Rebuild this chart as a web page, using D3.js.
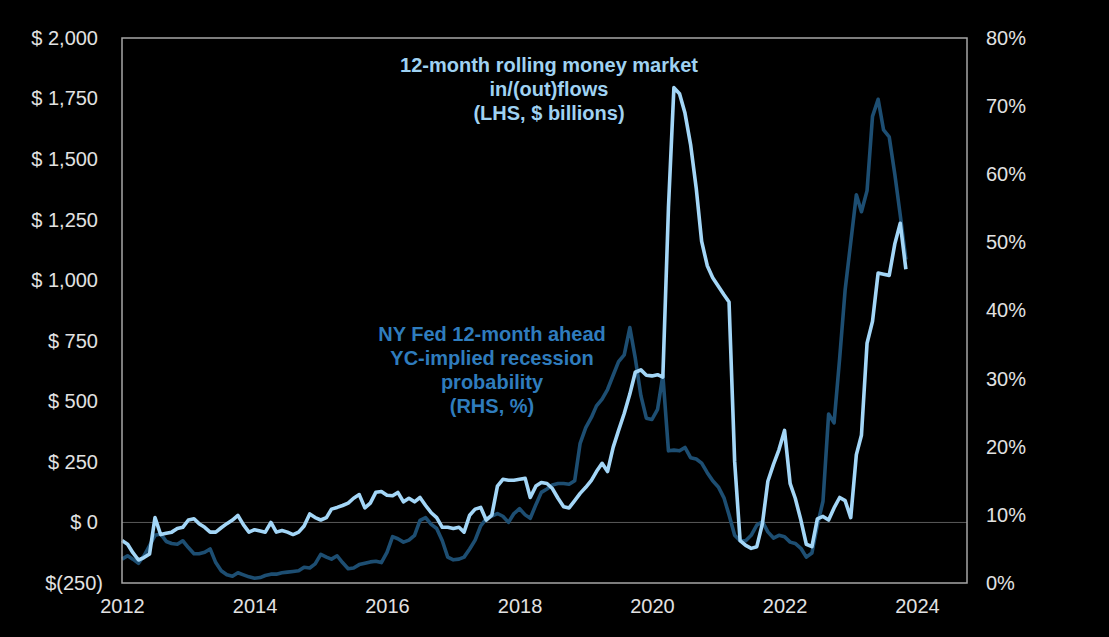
<!DOCTYPE html>
<html>
<head>
<meta charset="utf-8">
<script src="https://cdn.jsdelivr.net/npm/d3@7"></script>
<style>
  html, body { margin: 0; padding: 0; background: #000; }
  svg { display: block; }
</style>
</head>
<body>
<svg id="chart" width="1109" height="637"></svg>
<script>
// ---- Data (monthly, Jan 2012 .. Nov 2023) ----
const seriesStart = new Date(2012, 0, 1);

// 12-month rolling money market in/(out)flows, $ billions (LHS)
const moneyFlows = [
  -75, -90, -125, -155, -145, -130, 20, -50, -45, -40, -25, -20,
  10, 15, -5, -20, -40, -40, -22, -5, 10, 29, -10, -40,
  -30, -35, -40, 0, -40, -33, -40, -50, -40, -15, 35, 20,
  10, 20, 55, 62, 70, 80, 100, 115, 60, 80, 125, 128,
  112, 110, 124, 85, 100, 85, 103, 70, 40, 20, -20, -20,
  -25, -20, -40, 30, 55, 62, 10, 30, 150, 178, 174, 174,
  178, 182, 103, 150, 165, 161, 140, 100, 65, 60, 90, 120,
  145, 174, 210, 244, 210, 310, 380, 450, 530, 620, 630, 608,
  605, 610, 600, 1300, 1795, 1770, 1690, 1560, 1380, 1160, 1060, 1010,
  975, 940, 910, 250, -75, -95, -107, -100, -5, 170, 240, 300,
  380, 160, 100, 10, -90, -100, 15, 25, 10, 60, 103, 90,
  20, 280, 360, 740, 830, 1030, 1025, 1020, 1150, 1235, 1045
];

// NY Fed 12-month ahead YC-implied recession probability, % (RHS)
const recessionProb = [
  3.5, 4.0, 3.5, 2.9, 4.0, 5.5, 7.0, 7.2, 6.1, 5.8, 5.7, 6.2,
  5.2, 4.3, 4.3, 4.5, 5.0, 3.0, 1.8, 1.2, 1.0, 1.5, 1.2, 0.9,
  0.7, 0.8, 1.1, 1.3, 1.3, 1.5, 1.6, 1.7, 1.8, 2.3, 2.2, 2.8,
  4.2, 3.8, 3.5, 4.0, 3.0, 2.1, 2.2, 2.7, 2.9, 3.1, 3.2, 3.0,
  4.5, 6.8, 6.5, 6.0, 6.3, 7.0, 9.2, 9.6, 8.6, 8.0, 6.2, 3.8,
  3.4, 3.5, 3.8, 5.0, 6.3, 8.4, 9.4, 9.8, 10.2, 9.8, 8.9, 10.2,
  10.9, 10.0, 9.5, 11.5, 13.3, 13.8, 14.4, 14.6, 14.6, 14.5, 15.0, 20.5,
  22.8, 24.3, 26.0, 27.0, 28.4, 30.5, 32.5, 33.5, 37.5, 33.0, 27.5, 24.2,
  24.0, 25.5, 30.5, 19.4, 19.5, 19.4, 19.9, 18.4, 18.2, 17.6, 16.2, 15.0,
  14.1, 12.5, 10.0, 7.0, 6.2, 6.2, 7.0, 8.5, 9.0, 7.5, 6.6, 7.0,
  6.8, 6.0, 5.8, 5.1, 3.8, 4.4, 8.5, 12.0, 24.8, 23.5, 33.0, 43.0,
  50.0, 57.0, 54.5, 57.6, 68.5, 71.0, 66.5, 65.5, 60.0, 54.0, 47.5
];

const leftTicks = [-250, 0, 250, 500, 750, 1000, 1250, 1500, 1750, 2000];
const rightTicks = [0, 10, 20, 30, 40, 50, 60, 70, 80];
const yearTicks = [2012, 2014, 2016, 2018, 2020, 2022, 2024];

const flowsTitle = ["12-month rolling money market", "in/(out)flows", "(LHS, $ billions)"];
const probTitle = ["NY Fed 12-month ahead", "YC-implied recession", "probability", "(RHS, %)"];

// ---- Layout ----
const plot = { left: 122, right: 967, top: 38, bottom: 583 };
const colors = {
  light: "#a3d6f7",
  dark: "#1d4e72",
  lightText: "#9fd2f2",
  darkText: "#2f7cbd",
  axisText: "#e2e2e2",
  border: "#a6a6a6",
  zero: "#5a5a5a"
};

const svg = d3.select("#chart");
svg.append("rect").attr("width", 1109).attr("height", 637).attr("fill", "#000");

const dates = d3.timeMonth.range(seriesStart, d3.timeMonth.offset(seriesStart, moneyFlows.length));

const x = d3.scaleTime()
  .domain([new Date(2012, 0, 1), new Date(2024, 9, 3)])
  .range([plot.left, plot.right]);
const yL = d3.scaleLinear().domain([-250, 2000]).range([plot.bottom, plot.top]);
const yR = d3.scaleLinear().domain([0, 80]).range([plot.bottom, plot.top]);

const font = "'Liberation Sans', Arial, sans-serif";

// zero line
svg.append("line")
  .attr("x1", plot.left).attr("x2", plot.right)
  .attr("y1", yL(0)).attr("y2", yL(0))
  .attr("stroke", colors.zero).attr("stroke-width", 1);

// lines
const darkLine = d3.line().x((d, i) => x(dates[i])).y(d => yR(d));
const lightLine = d3.line().x((d, i) => x(dates[i])).y(d => yL(d));

svg.append("path").datum(recessionProb)
  .attr("d", darkLine).attr("fill", "none")
  .attr("stroke", colors.dark).attr("stroke-width", 3.6)
  .attr("stroke-linejoin", "round");

svg.append("path").datum(moneyFlows)
  .attr("d", lightLine).attr("fill", "none")
  .attr("stroke", colors.light).attr("stroke-width", 3.6)
  .attr("stroke-linejoin", "round");

// border
svg.append("rect")
  .attr("x", plot.left).attr("y", plot.top)
  .attr("width", plot.right - plot.left).attr("height", plot.bottom - plot.top)
  .attr("fill", "none").attr("stroke", colors.border).attr("stroke-width", 1.5);

// axes
const fmt = d3.format(",");
const leftAxis = d3.axisLeft(yL).tickValues(leftTicks).tickSize(0).tickPadding(24)
  .tickFormat(v => v < 0 ? "$(" + fmt(-v) + ")" : "$ " + fmt(v));
const gL = svg.append("g").attr("transform", `translate(${plot.left},0)`).call(leftAxis);

const rightAxis = d3.axisRight(yR).tickValues(rightTicks).tickSize(0).tickPadding(19)
  .tickFormat(v => v + "%");
const gR = svg.append("g").attr("transform", `translate(${plot.right},0)`).call(rightAxis);

const bottomAxis = d3.axisBottom(x)
  .tickValues(yearTicks.map(yv => new Date(yv, 0, 1)))
  .tickSize(0).tickPadding(16)
  .tickFormat(d3.timeFormat("%Y"));
const gB = svg.append("g").attr("transform", `translate(0,${plot.bottom})`).call(bottomAxis);

[gL, gR, gB].forEach(g => {
  g.select(".domain").remove();
  g.selectAll("text")
    .attr("fill", colors.axisText)
    .style("font-family", font)
    .style("font-size", "20px");
});
gL.selectAll("text").filter(d => d < 0).attr("dx", "5px");

// annotations
svg.append("text")
  .attr("text-anchor", "middle")
  .style("font-family", font).style("font-size", "20px").style("font-weight", "bold")
  .attr("fill", colors.lightText)
  .selectAll("tspan").data(flowsTitle).join("tspan")
  .attr("x", 549).attr("y", (d, i) => 72 + i * 24)
  .text(d => d);

svg.append("text")
  .attr("text-anchor", "middle")
  .style("font-family", font).style("font-size", "20px").style("font-weight", "bold")
  .attr("fill", colors.darkText)
  .selectAll("tspan").data(probTitle).join("tspan")
  .attr("x", 492).attr("y", (d, i) => 341 + i * 24)
  .text(d => d);
</script>
</body>
</html>
